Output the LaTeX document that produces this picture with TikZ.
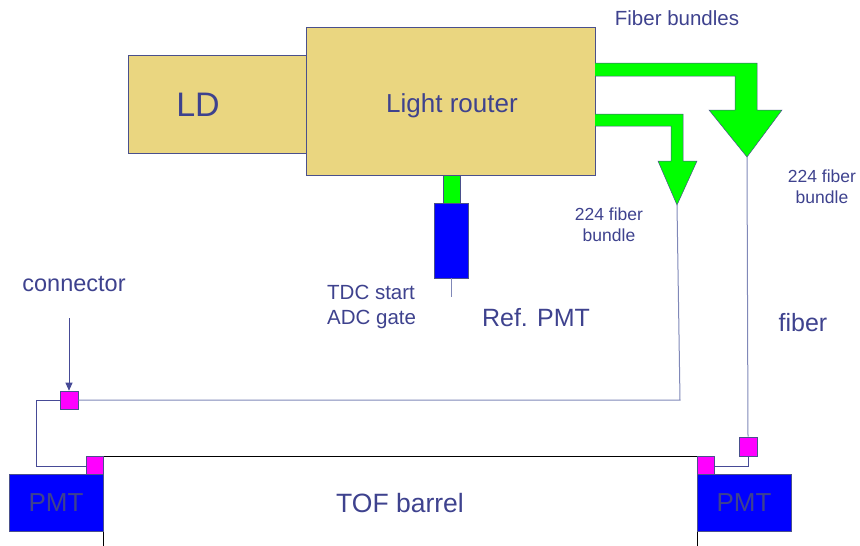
\documentclass[tikz,border=0pt]{standalone}
\usepackage{fontspec}
\setmainfont{Liberation Sans}
\usetikzlibrary{arrows.meta}
\definecolor{txt}{RGB}{62,66,142}
\definecolor{tan}{RGB}{234,214,128}
\definecolor{edge}{RGB}{74,80,140}
\definecolor{fib}{RGB}{128,136,184}
\definecolor{fibd}{RGB}{70,74,150}
\definecolor{grn}{RGB}{0,255,0}
\definecolor{pmtblue}{RGB}{0,0,255}
\definecolor{mag}{RGB}{255,0,255}
\tikzset{
  box/.style={draw=edge, line width=0.8pt, fill=tan, inner sep=0pt, text=txt},
  lbl/.style={text=txt, inner sep=0pt, font=\fontsize{#1}{#1}\selectfont},
  lbl/.default=20,
  pmtbox/.style={draw=edge, line width=0.6pt, fill=pmtblue, inner sep=0pt, text=txt, font=\fontsize{26}{26}\selectfont},
  conn/.style={draw=edge, line width=0.6pt, fill=mag, inner sep=0pt, minimum width=18pt, minimum height=18pt},
  bundle/.style={draw=edge, line width=0.5pt, fill=grn},
  fiberline/.style={draw=fib, line width=1pt},
  fiberdark/.style={draw=fibd, line width=0.9pt},
}
\begin{document}
\begin{tikzpicture}[x=1pt,y=-1pt]
\useasboundingbox (0,0) rectangle (860,546);
% main boxes
\node[box, minimum width=178pt, minimum height=98pt] (ld) at (217,104) {};
\node[lbl=34] (ldt) at (198,105) {LD};
\node[box, minimum width=289pt, minimum height=148pt] (router) at (450.5,101) {};
\node[lbl=26, anchor=base] (routert) at (452,112) {Light router};
% reference PMT
\node[draw=edge, line width=0.5pt, fill=grn, minimum width=17pt, minimum height=28pt, inner sep=0pt] (refg) at (451.5,189) {};
\node[draw=edge, line width=0.6pt, fill=pmtblue, minimum width=34pt, minimum height=75pt, inner sep=0pt] (refb) at (451,240.5) {};
\coordinate (refend) at (451,297);
\draw[fiberline] (refb.south) -- (refend);
% fiber bundles (green arrows)
\draw[bundle] (595,63) -- (757,63) -- (757,110) -- (782,110) -- (747,157) -- (709,110) -- (735,110) -- (735,76) -- (595,76);
\draw[bundle] (595,114) -- (683,114) -- (683,161) -- (697,161) -- (677,205) -- (658,161) -- (671,161) -- (671,126) -- (595,126);
\coordinate (tipA) at (747,157);
\coordinate (tipB) at (677,205);
% TOF barrel
\coordinate (bl) at (103,546);
\coordinate (tl) at (103,456);
\coordinate (tr) at (697,456);
\coordinate (br) at (697,546);
\draw[black, line width=1pt] (bl) -- (tl) -- (tr) -- (br);
% PMTs
\node[pmtbox, minimum width=94pt, minimum height=57pt] (pmtl) at (56,502.5) {PMT};
\node[pmtbox, minimum width=94pt, minimum height=57pt] (pmtr) at (744,502.5) {PMT};
% connectors
\node[conn] (cl) at (69,400) {};
\node[conn, minimum width=17pt] (cpl) at (94.5,465) {};
\node[conn, minimum width=17pt] (cpr) at (705.5,465) {};
\node[conn, minimum height=19pt] (cr) at (748,446.5) {};
% fiber lines
\coordinate (b1) at (680,400);
\coordinate (b2) at (36,400);
\coordinate (b3) at (36,466);
\coordinate (r1) at (748,466);
\draw[fiberline] (tipB) -- (b1) -- (cl.east);
\draw[fiberdark] (cl.west) -- (b2) -- (b3) -- (cpl.west |- b3);
\draw[fiberline] (tipA) -- (cr.north);
\draw[fiberdark] (cr.south) -- (r1) -- (cpr.east |- r1);
% labels
\node[lbl=20.5] (fb) at (677,18) {Fiber bundles};
\node[lbl=17.5, align=center, font=\fontsize{17.5}{21}\selectfont] (b224a) at (609,225) {224 fiber\\bundle};
\node[lbl=17.5, align=center, font=\fontsize{17.5}{21}\selectfont] (b224b) at (822,187) {224 fiber\\bundle};
\node[lbl=23.5] (connt) at (74,284) {connector};
\coordinate (arrtop) at (69,318);
\draw[-{Triangle[length=8pt,width=7pt]}, fibd, line width=0.9pt] (arrtop) -- (cl.north);
\node[lbl=20.5, anchor=west] (tdc) at (327,292) {TDC start};
\node[lbl=20.5, anchor=west] (adc) at (327,319) {ADC gate};
\node[lbl=25] (refpmt) at (536,318) {Ref. PMT};
\node[lbl=25] (fibt) at (803,323) {fiber};
\node[lbl=26.5] (tof) at (400,503) {TOF barrel};
\end{tikzpicture}
\end{document}
